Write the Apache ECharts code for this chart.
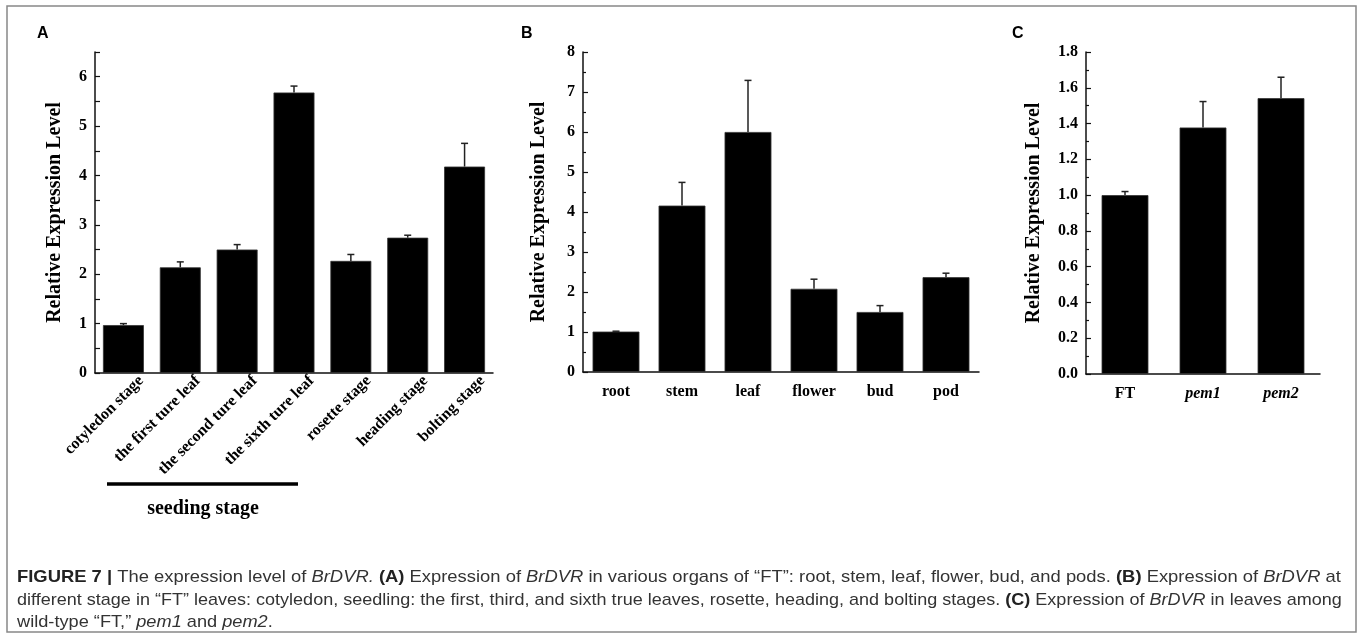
<!DOCTYPE html>
<html><head><meta charset="utf-8">
<script src="https://cdn.jsdelivr.net/npm/echarts@6/dist/echarts.min.js"></script>
<style>html,body{margin:0;padding:0;background:#fff}#c{width:1362px;height:641px}</style>
</head><body><div id="c"></div>
<script>
// ---- data ----
const stageCats = ['cotyledon stage','the first ture leaf','the second ture leaf','the sixth ture leaf','rosette stage','heading stage','bolting stage'];
const stageVals = [0.97, 2.14, 2.50, 5.68, 2.27, 2.74, 4.18];
const stageErr  = [0.03, 0.11, 0.10, 0.13, 0.13, 0.05, 0.47];

const organCats = ['root','stem','leaf','flower','bud','pod'];
const organVals = [1.01, 4.16, 6.00, 2.08, 1.50, 2.37];
const organErr  = [0.01, 0.58, 1.29, 0.24, 0.16, 0.10];

const lineCats = ['FT','pem1','pem2'];
const lineVals = [1.00, 1.378, 1.542];
const lineErr  = [0.02, 0.145, 0.117];

const yMaxA = 6.5, yIntA = 0.5;
const yMaxB = 8,   yIntB = 1;
const yMaxC = 1.8, yIntC = 0.2;

// ---- styles ----
const SERIF = "'Liberation Serif','Times New Roman',serif";
const SANS = "'Liberation Sans','Arial',sans-serif";
const AX = '#111';

const chart = echarts.init(document.getElementById('c'), null, {renderer:'canvas'});

function yAxisDef(gi, max, interval, fmt, nameGap, minor){
  return {
    type:'value', gridIndex:gi, min:0, max:max, interval:interval,
    name:'Relative Expression Level', nameLocation:'middle', nameGap:nameGap,
    nameTextStyle:{fontFamily:SERIF, fontWeight:'bold', fontSize:20, color:'#000'},
    axisLine:{show:true, lineStyle:{color:AX, width:1.5}},
    axisTick:{show:true, inside:true, length:5, lineStyle:{color:AX, width:1.2}},
    minorTick:{show:minor, splitNumber:2, length:3, lineStyle:{color:AX, width:1.2}},
    splitLine:{show:false}, minorSplitLine:{show:false},
    axisLabel:{fontFamily:SERIF, fontWeight:'bold', fontSize:16, color:'#000', margin:8, formatter:fmt}
  };
}
function xAxisDef(gi, cats, labelOpt){
  return {
    type:'category', gridIndex:gi, data:cats,
    axisLine:{show:true, lineStyle:{color:AX, width:1.5}},
    axisTick:{show:false},
    axisLabel:Object.assign({fontFamily:SERIF, fontWeight:'bold', fontSize:16, color:'#000', interval:0}, labelOpt)
  };
}
function barSeries(i, vals, w){
  return {type:'bar', xAxisIndex:i, yAxisIndex:i, data:vals, barWidth:w,
    itemStyle:{color:'#000', borderColor:'#333', borderWidth:0.8}, silent:true, z:2};
}
function errSeries(i, vals, errs){
  return {type:'custom', xAxisIndex:i, yAxisIndex:i, silent:true, z:3,
    encode:{x:0, y:[1,2]},
    data: vals.map((v,k)=>[k, v, v+errs[k]]),
    renderItem(params, api){
      const x = api.value(0);
      const p0 = api.coord([x, api.value(1)]);
      const p1 = api.coord([x, api.value(2)]);
      const cw = 3.5;
      return {type:'group', children:[
        {type:'line', shape:{x1:p0[0], y1:p0[1], x2:p1[0], y2:p1[1]}, style:{stroke:'#222', lineWidth:1.5}},
        {type:'line', shape:{x1:p1[0]-cw, y1:p1[1], x2:p1[0]+cw, y2:p1[1]}, style:{stroke:'#222', lineWidth:1.5}}
      ]};
    }
  };
}

const capStyle = {fontFamily:SANS, fontSize:17, fill:'#333'};
const capRich = {
  b:{fontFamily:SANS, fontSize:17, fontWeight:'bold', fill:'#222'},
  i:{fontFamily:SANS, fontSize:17, fontStyle:'italic', fill:'#333'}
};
const capLines = [
  '{b|FIGURE 7 |} The expression level of {i|BrDVR.} {b|(A)} Expression of {i|BrDVR} in various organs of \u201cFT\u201d: root, stem, leaf, flower, bud, and pods. {b|(B)} Expression of {i|BrDVR} at',
  'different stage in \u201cFT\u201d leaves: cotyledon, seedling: the first, third, and sixth true leaves, rosette, heading, and bolting stages. {b|(C)} Expression of {i|BrDVR} in leaves among',
  'wild-type \u201cFT,\u201d {i|pem1} and {i|pem2}.'
];

const option = {
  animation:false,
  backgroundColor:'#fff',
  grid:[
    {left:95, top:52, width:398, height:321},
    {left:583, top:52, width:396, height:320},
    {left:1086, top:52, width:234, height:322}
  ],
  xAxis:[
    xAxisDef(0, stageCats, {rotate:45, fontSize:16, margin:23, padding:[22, -25, 0, 0]}),
    xAxisDef(1, organCats, {margin:12}),
    xAxisDef(2, lineCats, {margin:12, formatter:(v)=> v==='FT' ? v : '{it|'+v+'}',
      rich:{it:{fontFamily:SERIF, fontWeight:'bold', fontStyle:'italic', fontSize:16, color:'#000'}}})
  ],
  yAxis:[
    yAxisDef(0, yMaxA, yIntA, (v)=> Number.isInteger(v) ? String(v) : '', 30, false),
    yAxisDef(1, yMaxB, yIntB, (v)=> String(v), 34, true),
    yAxisDef(2, yMaxC, yIntC, (v)=> v.toFixed(1), 42, true)
  ],
  series:[
    barSeries(0, stageVals, '72%'),
    barSeries(1, organVals, '71%'),
    barSeries(2, lineVals, '60%'),
    errSeries(0, stageVals, stageErr),
    errSeries(1, organVals, organErr),
    errSeries(2, lineVals, lineErr)
  ],
  graphic:[
    {type:'rect', shape:{x:7, y:6, width:1349, height:626}, style:{fill:null, stroke:'#888', lineWidth:1.5}, silent:true},
    {type:'text', left:37, top:26, style:{text:'A', fontFamily:SANS, fontWeight:'bold', fontSize:16, fill:'#000'}},
    {type:'text', left:521, top:26, style:{text:'B', fontFamily:SANS, fontWeight:'bold', fontSize:16, fill:'#000'}},
    {type:'text', left:1012, top:26, style:{text:'C', fontFamily:SANS, fontWeight:'bold', fontSize:16, fill:'#000'}},
    {type:'line', shape:{x1:107, y1:484, x2:298, y2:484}, style:{stroke:'#000', lineWidth:3.5}},
    {type:'text', x:203, y:509, style:{text:'seeding stage', fontFamily:SERIF, fontWeight:'bold', fontSize:20, fill:'#000', align:'center', verticalAlign:'middle'}},
    {type:'text', x:17, y:577, scaleX:1.082, style:Object.assign({text:capLines[0], rich:capRich, verticalAlign:'middle'}, capStyle)},
    {type:'text', x:17, y:600, scaleX:1.060, style:Object.assign({text:capLines[1], rich:capRich, verticalAlign:'middle'}, capStyle)},
    {type:'text', x:17, y:622, scaleX:1.07, style:Object.assign({text:capLines[2], rich:capRich, verticalAlign:'middle'}, capStyle)}
  ]
};
chart.setOption(option);
</script>
</body></html>
